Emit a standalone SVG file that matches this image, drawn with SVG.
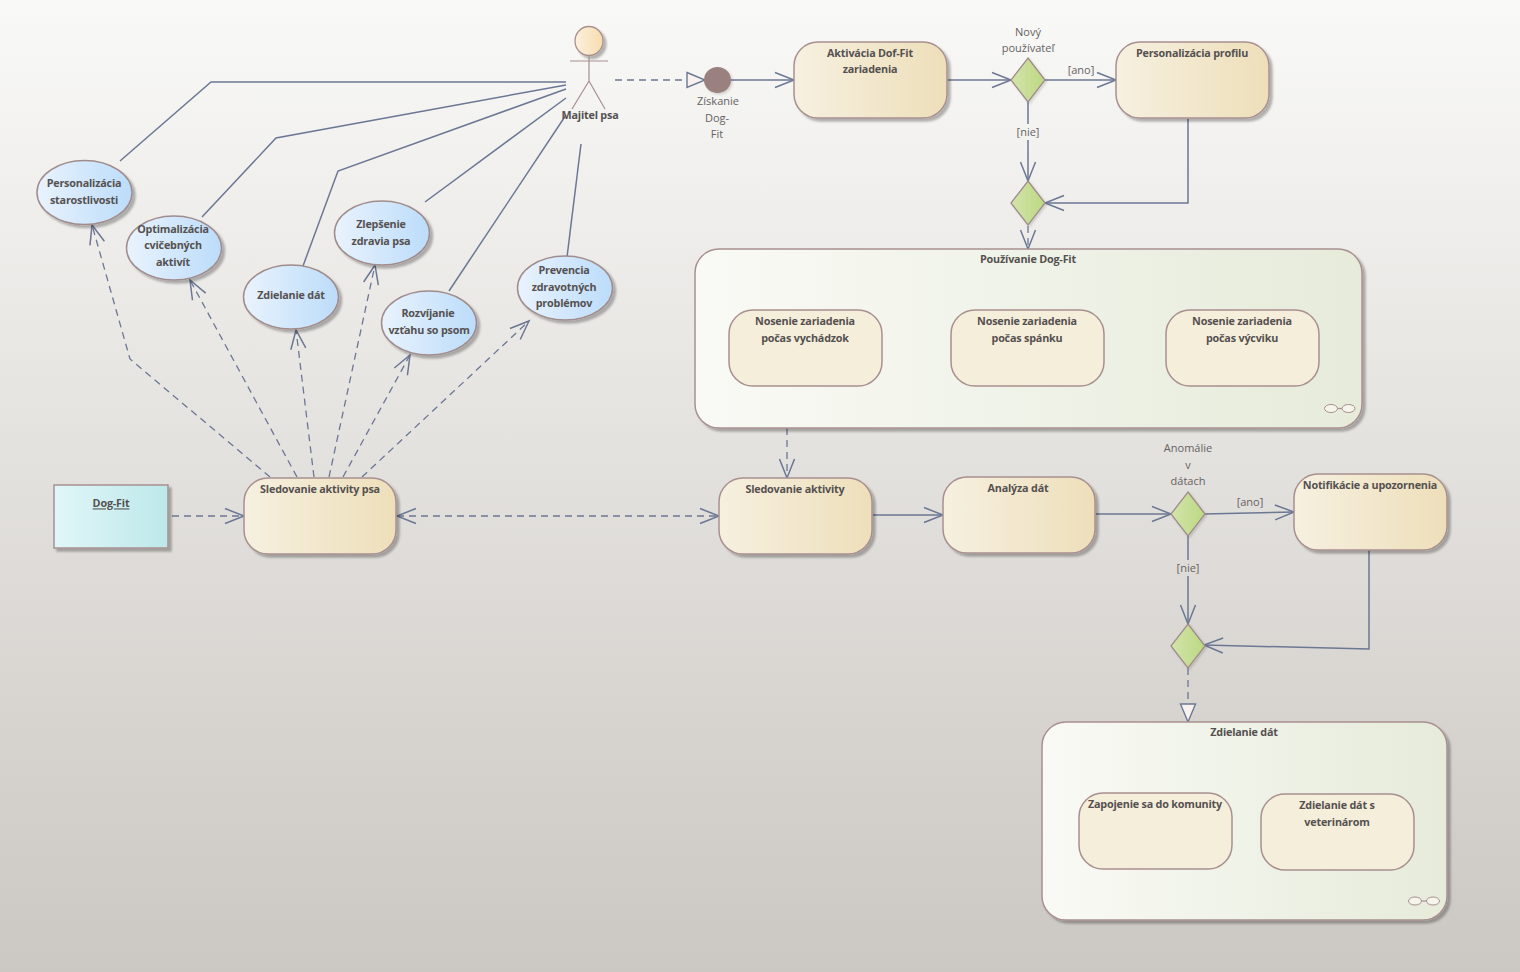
<svg xmlns="http://www.w3.org/2000/svg" width="1520" height="972" viewBox="0 0 1520 972">
<style>
text{font-family:"Open Sans","Liberation Sans",sans-serif;font-size:11px;fill:#666262;text-anchor:middle}
.b{font-weight:700;fill:#555151;font-size:10.8px;letter-spacing:-.2px;translate:0 -.6px}
.act{fill:url(#ga);stroke:#a89090;stroke-width:1.5;filter:url(#sh)}
.sub{fill:#f5eeda;stroke:#a89090;stroke-width:1.5}
.grp{fill:url(#gg);stroke:#a89090;stroke-width:1.5;filter:url(#sh)}
.uc{fill:url(#gu);stroke:#a08c8c;stroke-width:1.5;filter:url(#sh)}
.dia{fill:url(#gd);stroke:#a08c8c;stroke-width:1.3;filter:url(#sh2)}
.c{fill:none;stroke:#6c7793;stroke-width:1.5}
.d{stroke-dasharray:7 5;stroke-width:1.3}
.o{marker-end:url(#open)}
.h{marker-end:url(#hollow)}
.ln{fill:none;stroke:#a89090;stroke-width:1.2}
</style>
<defs>
<linearGradient id="bg" x1="0" y1="0" x2="0" y2="1"><stop offset="0" stop-color="#f9f9f7"/><stop offset="1" stop-color="#cbc7c2"/></linearGradient>
<linearGradient id="ga"><stop offset="0" stop-color="#f6f0e0"/><stop offset="1" stop-color="#eedfba"/></linearGradient>
<linearGradient id="gg"><stop offset="0" stop-color="#f9faf5"/><stop offset="1" stop-color="#e6ebda"/></linearGradient>
<linearGradient id="gu"><stop offset="0" stop-color="#e9f3fd"/><stop offset="1" stop-color="#bcdcfa"/></linearGradient>
<linearGradient id="gd"><stop offset="0" stop-color="#d3e4aa"/><stop offset="1" stop-color="#bcd883"/></linearGradient>
<linearGradient id="gb"><stop offset="0" stop-color="#e1f6f8"/><stop offset="1" stop-color="#bde8ea"/></linearGradient>
<linearGradient id="gh"><stop offset="0" stop-color="#fbf1dd"/><stop offset="1" stop-color="#f8dcaf"/></linearGradient>
<filter id="sh" x="-10%" y="-10%" width="125%" height="125%"><feDropShadow dx="3" dy="3" stdDeviation="1.2" flood-color="#000" flood-opacity=".28"/></filter>
<filter id="sh2" x="-10%" y="-10%" width="125%" height="125%"><feDropShadow dx="1.500" dy="1.500" stdDeviation="1" flood-color="#000" flood-opacity=".15"/></filter>
<marker id="open" markerUnits="userSpaceOnUse" markerWidth="24" markerHeight="20" refX="20" refY="10" orient="auto-start-reverse"><path d="M1 2.5 L20 10 L1 17.5" fill="none" stroke="#6c7793" stroke-width="1.5"/></marker>
<marker id="hollow" markerUnits="userSpaceOnUse" markerWidth="24" markerHeight="20" refX="20" refY="10" orient="auto"><path d="M2 2.5 L20 10 L2 17.5Z" fill="#f8f2ee" stroke="#6c7793" stroke-width="1.4"/></marker>
</defs>
<rect id="background" width="1520" height="972" fill="url(#bg)"/>
<g id="connectors">
<path class="c" d="M120 161 L211 82 H566"/>
<path class="c" d="M202 217 L276 138 L566 85"/>
<path class="c" d="M303 266 L338 171 L566 89"/>
<path class="c" d="M425 202 L566 98"/>
<path class="c" d="M449 291 L566 115"/>
<path class="c" d="M567 257 L581 144"/>
<path class="c d h" d="M615 80 H705"/>
<path class="c o" d="M731 80 H794"/>
<path class="c o" d="M948 80 H1011"/>
<path class="c o" d="M1045 80 H1116"/>
<path class="c" d="M1028 102 V124"/>
<path class="c o" d="M1028 140 V181"/>
<path class="c o" d="M1188 119 V203 H1045"/>
<path class="c d o" d="M1028 226 V249"/>
<path class="c d o" d="M787 428 V478"/>
<path class="c o" d="M873 515 H943"/>
<path class="c o" d="M1096 514 H1171"/>
<path class="c o" d="M1204 514 L1294 512"/>
<path class="c" d="M1188 536 V560"/>
<path class="c o" d="M1188 576 V624"/>
<path class="c o" d="M1369 550 V649 L1204 645"/>
<path class="c d h" d="M1188 668 V722"/>
<path class="c d o" d="M172 516 H244"/>
<path class="c d" style="marker-start:url(#open);marker-end:url(#open)" d="M397 516 H719"/>
<path class="c d o" d="M270 477 L130 359 L92 225"/>
<path class="c d o" d="M297 477 L190 280"/>
<path class="c d o" d="M314 477 L296 330"/>
<path class="c d o" d="M329 477 L375 265"/>
<path class="c d o" d="M343 477 L410 355"/>
<path class="c d o" d="M362 477 L529 321"/>
</g>
<g id="actor">
<ellipse cx="589" cy="41" rx="14" ry="14.5" fill="url(#gh)" stroke="#a89090" stroke-width="1.3" filter="url(#sh)"/>
<path class="ln" d="M589 56 V81 M570 61 H608 M589 81 L572 109 M589 81 L605 109"/>
<text class="b" x="590" y="120">Majitel psa</text>
</g>
<g id="uc1"><ellipse class="uc" cx="84.500" cy="192.500" rx="47.500" ry="32"/><text class="b" x="84" y="188">Personalizácia</text><text class="b" x="84" y="205">starostlivosti</text></g>
<g id="uc2"><ellipse class="uc" cx="174" cy="248" rx="47.500" ry="32"/><text class="b" x="173" y="234">Optimalizácia</text><text class="b" x="173" y="250">cvičebných</text><text class="b" x="173" y="267">aktivít</text></g>
<g id="uc3"><ellipse class="uc" cx="291" cy="297" rx="47.500" ry="32"/><text class="b" x="291" y="300">Zdielanie dát</text></g>
<g id="uc4"><ellipse class="uc" cx="382" cy="233" rx="47.500" ry="32"/><text class="b" x="381" y="229">Zlepšenie</text><text class="b" x="381" y="246">zdravia psa</text></g>
<g id="uc5"><ellipse class="uc" cx="429" cy="323" rx="47.500" ry="32"/><text class="b" x="428" y="318">Rozvíjanie</text><text class="b" x="429" y="335">vzťahu so psom</text></g>
<g id="uc6"><ellipse class="uc" cx="565" cy="288" rx="47.500" ry="32"/><text class="b" x="564" y="275">Prevencia</text><text class="b" x="564" y="292">zdravotných</text><text class="b" x="564" y="308">problémov</text></g>
<g id="start"><ellipse cx="717.500" cy="80" rx="13.500" ry="13" fill="#9b8080" filter="url(#sh2)"/><text x="718" y="105">Získanie</text><text x="717" y="122">Dog-</text><text x="717" y="138">Fit</text></g>
<g id="a1"><rect class="act" x="794" y="42" width="153" height="76" rx="24"/><text class="b" x="870" y="58">Aktivácia Dof-Fit</text><text class="b" x="870" y="74">zariadenia</text></g>
<g id="d1"><path class="dia" d="M1028 58 L1045 80 L1028 102 L1011 80Z"/><text x="1028" y="36">Nový</text><text x="1028" y="52">používateľ</text></g>
<text x="1081" y="74">[ano]</text>
<text x="1028" y="136">[nie]</text>
<g id="a2"><rect class="act" x="1116" y="42" width="153" height="76" rx="24"/><text class="b" x="1192" y="58">Personalizácia profilu</text></g>
<g id="d2"><path class="dia" d="M1028 181 L1045 203 L1028 225 L1011 203Z"/></g>
<g id="g1"><rect class="grp" x="695" y="249" width="667" height="179" rx="24"/><text class="b" x="1028" y="264">Používanie Dog-Fit</text>
<rect class="sub" x="729" y="310" width="153" height="76" rx="24"/><text class="b" x="805" y="326">Nosenie zariadenia</text><text class="b" x="805" y="343">počas vychádzok</text>
<rect class="sub" x="951" y="310" width="153" height="76" rx="24"/><text class="b" x="1027" y="326">Nosenie zariadenia</text><text class="b" x="1027" y="343">počas spánku</text>
<rect class="sub" x="1166" y="310" width="153" height="76" rx="24"/><text class="b" x="1242" y="326">Nosenie zariadenia</text><text class="b" x="1242" y="343">počas výcviku</text>
<ellipse cx="1331" cy="408.500" rx="6.500" ry="4" fill="#f5f5ec" stroke="#a89090"/><ellipse cx="1348.500" cy="408.500" rx="6.500" ry="4" fill="#f5f5ec" stroke="#a89090"/><path class="ln" d="M1337.500 408.500 H1342"/></g>
<g id="obj"><rect x="54" y="485" width="114" height="63" fill="url(#gb)" stroke="#a89090" stroke-width="1.5" filter="url(#sh)"/><text class="b" x="111" y="508" text-decoration="underline">Dog-Fit</text></g>
<g id="a3"><rect class="act" x="244" y="478" width="152" height="76" rx="24"/><text class="b" x="320" y="494">Sledovanie aktivity psa</text></g>
<g id="a4"><rect class="act" x="719" y="478" width="153" height="76" rx="24"/><text class="b" x="795" y="494">Sledovanie aktivity</text></g>
<g id="a5"><rect class="act" x="943" y="477" width="152" height="76" rx="24"/><text class="b" x="1018" y="493">Analýza dát</text></g>
<g id="d3"><path class="dia" d="M1188 492 L1205 514 L1188 536 L1171 514Z"/><text x="1188" y="452">Anomálie</text><text x="1188" y="469">v</text><text x="1188" y="485">dátach</text></g>
<text x="1250" y="506">[ano]</text>
<text x="1188" y="572">[nie]</text>
<g id="a6"><rect class="act" x="1294" y="474" width="153" height="76" rx="24"/><text class="b" x="1370" y="490">Notifikácie a upozornenia</text></g>
<g id="d4"><path class="dia" d="M1188 624 L1205 646 L1188 668 L1171 646Z"/></g>
<g id="g2"><rect class="grp" x="1042" y="722" width="405" height="198" rx="24"/><text class="b" x="1244" y="737">Zdielanie dát</text>
<rect class="sub" x="1079" y="793" width="153" height="76" rx="24"/><text class="b" x="1155" y="809">Zapojenie sa do komunity</text>
<rect class="sub" x="1261" y="794" width="153" height="76" rx="24"/><text class="b" x="1337" y="810">Zdielanie dát s</text><text class="b" x="1337" y="827">veterinárom</text>
<ellipse cx="1415" cy="901" rx="6.500" ry="4" fill="#f5f5ec" stroke="#a89090"/><ellipse cx="1433" cy="901" rx="6.500" ry="4" fill="#f5f5ec" stroke="#a89090"/><path class="ln" d="M1421.500 901 H1426.500"/></g>
</svg>
